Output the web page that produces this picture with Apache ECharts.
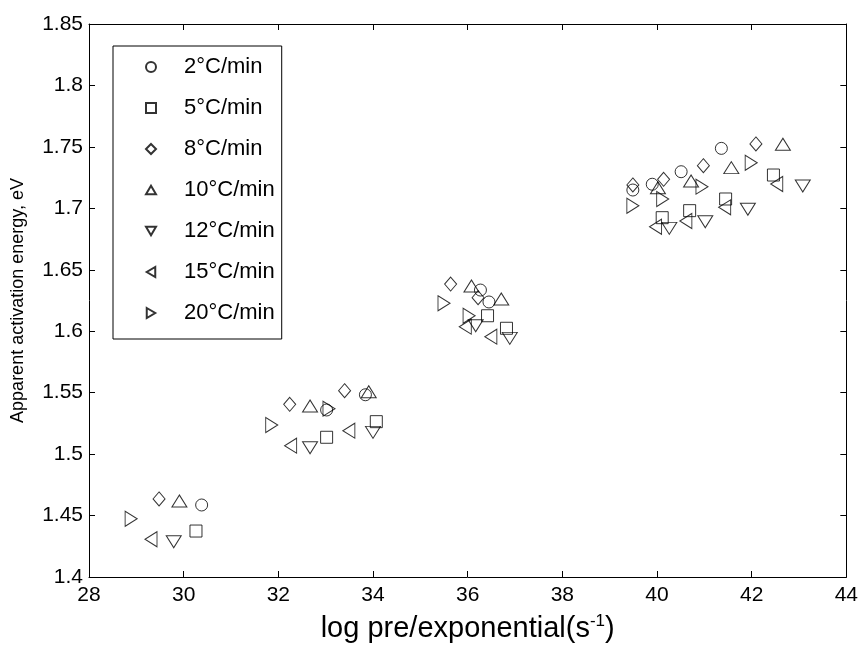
<!DOCTYPE html>
<html>
<head>
<meta charset="utf-8">
<script src="https://cdn.jsdelivr.net/npm/echarts@6/dist/echarts.min.js"></script>
<style>
  html, body { margin: 0; padding: 0; background: #fff; }
  #chart { width: 861px; height: 651px; }
</style>
</head>
<body>
<div id="chart"></div>
<script>
// Heating-rate series: [log pre-exponential factor, apparent activation energy (eV)]
const rateNames = ['2°C/min', '5°C/min', '8°C/min', '10°C/min', '12°C/min', '15°C/min', '20°C/min'];

const rate2  = [[30.38, 1.4586], [33.02, 1.5359], [33.84, 1.5483], [36.27, 1.6335], [36.45, 1.6238], [39.49, 1.7149], [39.90, 1.7196], [40.51, 1.7298], [41.36, 1.7488]];
const rate5  = [[30.26, 1.4374], [33.02, 1.5137], [34.07, 1.5264], [36.42, 1.6126], [36.82, 1.6024], [40.11, 1.6924], [40.69, 1.6981], [41.45, 1.7076], [42.46, 1.7271]];
const rate8  = [[29.48, 1.4635], [32.24, 1.5405], [33.40, 1.5516], [35.64, 1.6384], [36.22, 1.6273], [39.49, 1.7190], [40.14, 1.7236], [40.98, 1.7347], [42.09, 1.7524]];
const rate10 = [[29.91, 1.4618], [32.67, 1.5392], [33.91, 1.5508], [36.08, 1.6368], [36.71, 1.6262], [40.02, 1.7168], [40.72, 1.7222], [41.57, 1.7331], [42.66, 1.7521]];
const rate12 = [[29.79, 1.4287], [32.67, 1.5052], [34.00, 1.5177], [36.17, 1.6045], [36.89, 1.5942], [40.26, 1.6837], [41.02, 1.6891], [41.92, 1.6992], [43.08, 1.7182]];
const rate15 = [[29.31, 1.4307], [32.26, 1.5069], [33.49, 1.5191], [35.95, 1.6037], [36.49, 1.5956], [39.97, 1.6850], [40.61, 1.6897], [41.43, 1.7008], [42.53, 1.7198]];
const rate20 = [[28.89, 1.4474], [31.86, 1.5237], [33.07, 1.5370], [35.50, 1.6227], [36.03, 1.6126], [39.49, 1.7021], [40.12, 1.7076], [40.95, 1.7176], [41.99, 1.7371]];

// Axis ranges and tick spacing
const xRange = { min: 28, max: 44, step: 2 };
const yRange = { min: 1.4, max: 1.85, step: 0.05 };

const xTitle = 'log pre/exponential(s';
const xTitleSup = '-1';
const yTitle = 'Apparent activation energy, eV';

const FONT = '"Liberation Sans", Arial, Helvetica, sans-serif';
const INK = '#000';

// Open marker shapes (triangles drawn as paths so each direction is explicit)
const markers = [
  { symbol: 'circle', size: 12 },
  { symbol: 'rect', size: 12 },
  { symbol: 'diamond', size: [12, 14] },
  { symbol: 'path://M5,0L10,8.5L0,8.5Z', size: [15, 12] },
  { symbol: 'path://M0,0L10,0L5,8.5Z', size: [15, 12] },
  { symbol: 'path://M8.5,0L8.5,10L0,5Z', size: [12, 15] },
  { symbol: 'path://M0,0L8.5,5L0,10Z', size: [12, 15] }
];

const seriesData = [rate2, rate5, rate8, rate10, rate12, rate15, rate20];

const series = seriesData.map((d, i) => ({
  name: rateNames[i],
  type: 'scatter',
  data: d,
  symbol: markers[i].symbol,
  symbolSize: markers[i].size,
  itemStyle: { color: 'rgba(0,0,0,0)', borderColor: INK, borderWidth: 1 },
  emphasis: { disabled: true },
  silent: true
}));

const lineStyle = { color: INK, width: 1 };

function baseAxis(range) {
  return {
    type: 'value',
    min: range.min,
    max: range.max,
    interval: range.step,
    splitLine: { show: false },
    axisLine: { show: true, onZero: false, lineStyle },
    axisTick: { show: true, inside: true, length: 6, lineStyle }
  };
}

const option = {
  animation: false,
  backgroundColor: '#fff',
  grid: { left: 89, right: 14, top: 24, bottom: 74, containLabel: false },
  legend: {
    orient: 'vertical',
    left: 113,
    top: 46,
    data: rateNames,
    itemWidth: 10,
    itemHeight: 10,
    itemGap: 19,
    padding: [10, 7, 15, 32],
    backgroundColor: '#fff',
    borderColor: INK,
    borderWidth: 1,
    borderRadius: 0,
    selectedMode: false,
    textStyle: { fontSize: 22, lineHeight: 22, color: INK, fontFamily: FONT, padding: [0, 0, 0, 23] }
  },
  xAxis: [
    Object.assign(baseAxis(xRange), {
      position: 'bottom',
      axisLabel: { fontSize: 21, color: INK, fontFamily: FONT, margin: 8 },
      name: '{a|' + xTitle + '}{b|' + xTitleSup + '}{a|)}',
      nameLocation: 'middle',
      nameGap: 36,
      nameTextStyle: {
        color: INK,
        fontFamily: FONT,
        fontSize: 29,
        rich: {
          a: { fontSize: 29, fontFamily: FONT, color: INK, lineHeight: 32 },
          b: { fontSize: 17, fontFamily: FONT, color: INK, lineHeight: 17, verticalAlign: 'top' }
        }
      }
    }),
    Object.assign(baseAxis(xRange), {
      position: 'top',
      axisLabel: { show: false }
    })
  ],
  yAxis: [
    Object.assign(baseAxis(yRange), {
      position: 'left',
      axisLabel: { fontSize: 21, color: INK, fontFamily: FONT, margin: 6 },
      name: yTitle,
      nameLocation: 'middle',
      nameGap: 62,
      nameTextStyle: { fontSize: 18, color: INK, fontFamily: FONT }
    }),
    Object.assign(baseAxis(yRange), {
      position: 'right',
      axisLabel: { show: false }
    })
  ],
  series
};

const chart = echarts.init(document.getElementById('chart'), null, { renderer: 'canvas' });
chart.setOption(option);
</script>
</body>
</html>
